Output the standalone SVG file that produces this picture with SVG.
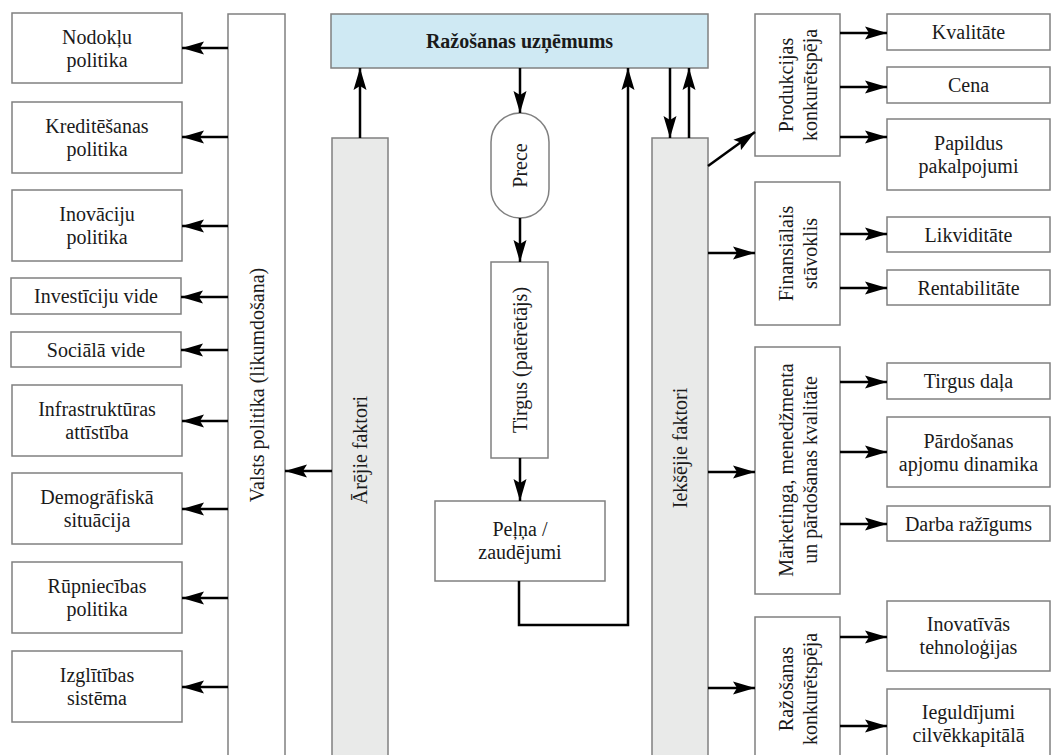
<svg xmlns="http://www.w3.org/2000/svg" width="1051" height="755" viewBox="0 0 1051 755">
  <defs>
    <marker id="ah" markerUnits="userSpaceOnUse" markerWidth="24" markerHeight="14" refX="22" refY="7" orient="auto">
      <path d="M0,0.5 L22,7 L0,13.5 L4,7 z" fill="#000"/>
    </marker>
    <style>
      .box { fill: #fff; stroke: #808080; stroke-width: 1.5; }
      .main { fill: #cfe9f3; stroke: #808080; stroke-width: 1.5; }
      .bar { fill: #e9eae9; stroke: #808080; stroke-width: 1.5; }
      .c { fill: none; stroke: #000; stroke-width: 2.5; marker-end: url(#ah); }
    </style>
  </defs>
  <rect width="1051" height="755" fill="#fff"/>

  <g font-family="'Liberation Serif', 'Times New Roman', Times, serif" font-size="20" text-anchor="middle" fill="#1a1a1a">

  <!-- Central enterprise -->
  <g id="razosanas-uznemums">
    <rect class="main" x="331" y="14" width="377" height="54"/>
    <text font-weight="bold" x="519.5" y="48">Ražošanas uzņēmums</text>
  </g>

  <!-- Vertical bars -->
  <g id="valsts-politika">
    <rect class="box" x="228" y="14" width="57" height="750"/>
    <text transform="translate(256.5,385) rotate(-90)" x="0" y="7">Valsts politika (likumdošana)</text>
  </g>
  <g id="arejie-faktori">
    <rect class="bar" x="332" y="138" width="56" height="630"/>
    <text transform="translate(360,450) rotate(-90)" x="0" y="7">Ārējie faktori</text>
  </g>
  <g id="ieksejie-faktori">
    <rect class="bar" x="652" y="138" width="56" height="630"/>
    <text transform="translate(680,448) rotate(-90)" x="0" y="7">Iekšējie faktori</text>
  </g>

  <!-- Market chain -->
  <g id="prece">
    <rect class="box" x="491" y="113" width="58" height="105" rx="29" ry="29"/>
    <text transform="translate(520,165.5) rotate(-90)" x="0" y="7">Prece</text>
  </g>
  <g id="tirgus">
    <rect class="box" x="491" y="262" width="57" height="196"/>
    <text transform="translate(519.5,360) rotate(-90)" x="0" y="7">Tirgus (patērētājs)</text>
  </g>
  <g id="pelna">
    <rect class="box" x="435" y="501" width="170" height="80"/>
    <text x="520" y="536">Peļņa /</text>
    <text x="520" y="559">zaudējumi</text>
  </g>

  <!-- State policy areas -->
  <g id="nodoklu-politika">
    <rect class="box" x="12" y="13" width="170" height="70"/>
    <text x="97" y="43.5">Nodokļu</text>
    <text x="97" y="66.5">politika</text>
  </g>
  <g id="kreditesanas-politika">
    <rect class="box" x="12" y="102" width="170" height="71"/>
    <text x="97" y="133">Kreditēšanas</text>
    <text x="97" y="156">politika</text>
  </g>
  <g id="inovaciju-politika">
    <rect class="box" x="12" y="190" width="170" height="71"/>
    <text x="97" y="221">Inovāciju</text>
    <text x="97" y="244">politika</text>
  </g>
  <g id="investiciju-vide">
    <rect class="box" x="11" y="278" width="170" height="36"/>
    <text x="96" y="303">Investīciju vide</text>
  </g>
  <g id="sociala-vide">
    <rect class="box" x="11" y="332" width="170" height="35"/>
    <text x="96" y="356.5">Sociālā vide</text>
  </g>
  <g id="infrastrukturas-attistiba">
    <rect class="box" x="12" y="385" width="170" height="71"/>
    <text x="97" y="416">Infrastruktūras</text>
    <text x="97" y="439">attīstība</text>
  </g>
  <g id="demografiska-situacija">
    <rect class="box" x="12" y="473" width="170" height="71"/>
    <text x="97" y="504">Demogrāfiskā</text>
    <text x="97" y="527">situācija</text>
  </g>
  <g id="rupniecibas-politika">
    <rect class="box" x="12" y="562" width="170" height="71"/>
    <text x="97" y="593">Rūpniecības</text>
    <text x="97" y="616">politika</text>
  </g>
  <g id="izglitibas-sistema">
    <rect class="box" x="12" y="651" width="170" height="71"/>
    <text x="97" y="682">Izglītības</text>
    <text x="97" y="705">sistēma</text>
  </g>

  <!-- Internal factor groups -->
  <g id="produkcijas-konkuretspeja">
    <rect class="box" x="755" y="14" width="85" height="142"/>
    <text transform="translate(797.5,85) rotate(-90)"><tspan x="0" y="-5">Produkcijas</tspan><tspan x="0" y="19">konkurētspēja</tspan></text>
  </g>
  <g id="finansialais-stavoklis">
    <rect class="box" x="755" y="182" width="85" height="143"/>
    <text transform="translate(797.5,253.5) rotate(-90)"><tspan x="0" y="-5">Finansiālais</tspan><tspan x="0" y="19">stāvoklis</tspan></text>
  </g>
  <g id="marketinga-kvalitate">
    <rect class="box" x="755" y="347" width="85" height="247"/>
    <text transform="translate(797.5,470) rotate(-90)"><tspan x="0" y="-5">Mārketinga, menedžmenta</tspan><tspan x="0" y="19">un pārdošanas kvalitāte</tspan></text>
  </g>
  <g id="razosanas-konkuretspeja">
    <rect class="box" x="755" y="617" width="85" height="150"/>
    <text transform="translate(797.5,689) rotate(-90)"><tspan x="0" y="-5">Ražošanas</tspan><tspan x="0" y="19">konkurētspēja</tspan></text>
  </g>

  <!-- Internal factor details -->
  <g id="kvalitate">
    <rect class="box" x="887" y="14" width="163" height="36"/>
    <text x="968.5" y="39">Kvalitāte</text>
  </g>
  <g id="cena">
    <rect class="box" x="887" y="67" width="163" height="36"/>
    <text x="968.5" y="92">Cena</text>
  </g>
  <g id="papildus-pakalpojumi">
    <rect class="box" x="887" y="119" width="163" height="71"/>
    <text x="968.5" y="150">Papildus</text>
    <text x="968.5" y="173">pakalpojumi</text>
  </g>
  <g id="likviditate">
    <rect class="box" x="887" y="217" width="163" height="35"/>
    <text x="968.5" y="241.5">Likviditāte</text>
  </g>
  <g id="rentabilitate">
    <rect class="box" x="887" y="270" width="163" height="35"/>
    <text x="968.5" y="294.5">Rentabilitāte</text>
  </g>
  <g id="tirgus-dala">
    <rect class="box" x="887" y="363" width="163" height="36"/>
    <text x="968.5" y="388">Tirgus daļa</text>
  </g>
  <g id="pardosanas-dinamika">
    <rect class="box" x="887" y="417" width="163" height="70"/>
    <text x="968.5" y="447.5">Pārdošanas</text>
    <text x="968.5" y="470.5">apjomu dinamika</text>
  </g>
  <g id="darba-razigums">
    <rect class="box" x="887" y="506" width="163" height="35"/>
    <text x="968.5" y="530.5">Darba ražīgums</text>
  </g>
  <g id="inovativas-tehnologijas">
    <rect class="box" x="887" y="601" width="163" height="70"/>
    <text x="968.5" y="631">Inovatīvās</text>
    <text x="968.5" y="654">tehnoloģijas</text>
  </g>
  <g id="ieguldijumi-cilvekkapitala">
    <rect class="box" x="887" y="689" width="163" height="72"/>
    <text x="968.5" y="719">Ieguldījumi</text>
    <text x="968.5" y="742">cilvēkkapitālā</text>
  </g>
  </g>

  <!-- Connectors -->
  <g id="connectors">
    <line class="c" x1="228" y1="48" x2="182" y2="48"/>
    <line class="c" x1="228" y1="137" x2="182" y2="137"/>
    <line class="c" x1="228" y1="226" x2="182" y2="226"/>
    <line class="c" x1="228" y1="297" x2="181" y2="297"/>
    <line class="c" x1="228" y1="350" x2="181" y2="350"/>
    <line class="c" x1="228" y1="421" x2="182" y2="421"/>
    <line class="c" x1="228" y1="509" x2="182" y2="509"/>
    <line class="c" x1="228" y1="598" x2="182" y2="598"/>
    <line class="c" x1="228" y1="687" x2="182" y2="687"/>

    <line class="c" x1="332" y1="471" x2="285" y2="471"/>
    <line class="c" x1="360" y1="138" x2="360" y2="68"/>

    <line class="c" x1="520" y1="68" x2="520" y2="113"/>
    <line class="c" x1="520" y1="218" x2="520" y2="262"/>
    <line class="c" x1="520" y1="458" x2="520" y2="501"/>
    <path class="c" d="M519,581 V625 H628 V68"/>

    <line class="c" x1="670" y1="68" x2="670" y2="138"/>
    <line class="c" x1="689" y1="138" x2="689" y2="68"/>

    <line class="c" x1="708" y1="166" x2="755" y2="132"/>
    <line class="c" x1="708" y1="253" x2="755" y2="253"/>
    <line class="c" x1="708" y1="472" x2="755" y2="472"/>
    <line class="c" x1="708" y1="688" x2="755" y2="688"/>

    <line class="c" x1="840" y1="33" x2="887" y2="33"/>
    <line class="c" x1="840" y1="87" x2="887" y2="87"/>
    <line class="c" x1="840" y1="137" x2="887" y2="137"/>
    <line class="c" x1="840" y1="234" x2="887" y2="234"/>
    <line class="c" x1="840" y1="288" x2="887" y2="288"/>
    <line class="c" x1="840" y1="382" x2="887" y2="382"/>
    <line class="c" x1="840" y1="452" x2="887" y2="452"/>
    <line class="c" x1="840" y1="524" x2="887" y2="524"/>
    <line class="c" x1="840" y1="637" x2="887" y2="637"/>
    <line class="c" x1="840" y1="726" x2="887" y2="726"/>
  </g>
</svg>
